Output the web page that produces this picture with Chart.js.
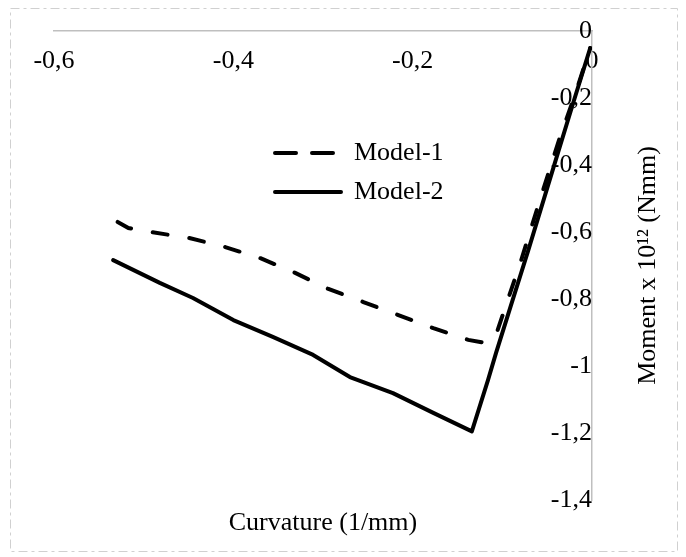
<!DOCTYPE html>
<html>
<head>
<meta charset="utf-8">
<script src="https://cdn.jsdelivr.net/npm/chart.js@4.4.1/dist/chart.umd.min.js"></script>
<style>
  body { margin: 0; background: #fff; }
  #wrap { width: 686px; height: 557px; }
</style>
</head>
<body>
<div id="wrap"><canvas id="myChart" width="686" height="557"></canvas></div>
<script>
// series names
const seriesNames = ["Model-1", "Model-2"];

// Model-1 (dashed) curvature / moment
const model1X = [-0.529, -0.517, -0.492, -0.449, -0.409, -0.370, -0.331, -0.294, -0.255, -0.216, -0.177, -0.138, -0.119, -0.106, -0.094, -0.080, -0.058, -0.036, -0.019, -0.002];
const model1Y = [-0.570, -0.588, -0.600, -0.618, -0.645, -0.678, -0.722, -0.770, -0.809, -0.848, -0.887, -0.922, -0.931, -0.899, -0.803, -0.693, -0.504, -0.319, -0.191, -0.051];

// Model-2 (solid)
const model2X = [-0.534, -0.482, -0.445, -0.400, -0.356, -0.311, -0.270, -0.222, -0.177, -0.134, -0.116, -0.107, -0.091, -0.071, -0.038, -0.021, -0.002];
const model2Y = [-0.684, -0.752, -0.797, -0.863, -0.913, -0.967, -1.033, -1.081, -1.140, -1.195, -1.042, -0.961, -0.824, -0.654, -0.364, -0.215, -0.051];

// tick labels (ascending order, as the scale builds them)
const xTickLabels = ["-0,6", "-0,4", "-0,2", "0"];
const yTickLabels = ["-1,4", "-1,2", "-1", "-0,8", "-0,6", "-0,4", "-0,2", "0"];

const xTitle = "Curvature (1/mm)";
const yTitle = "Moment x 10\u00b9\u00b2 (Nmm)";

const toPoints = (xs, ys) => xs.map((x, i) => ({ x: x, y: ys[i] }));

const serif = "'Liberation Serif', 'Times New Roman', serif";

// no label overhang padding, plot area is set by layout.padding
const noPad = scale => {
  scale.paddingTop = 0;
  scale.paddingBottom = 0;
  scale.paddingLeft = 0;
  scale.paddingRight = 0;
};

// legend placed inside the plot, titles + dashed frame drawn by hand
const extras = {
  id: "extras",
  afterLayout(chart) {
    const a = chart.chartArea;
    const lg = chart.legend;
    const w = lg.right - lg.left, h = lg.bottom - lg.top;
    lg.left = a.left + 208;
    lg.top = a.top + 96;
    lg.right = lg.left + w;
    lg.bottom = lg.top + h;
  },
  afterDraw(chart) {
    const ctx = chart.ctx;
    const a = chart.chartArea;
    ctx.save();
    ctx.fillStyle = "#000";
    ctx.font = "26px " + serif;
    ctx.textAlign = "center";
    ctx.textBaseline = "middle";
    ctx.fillText(xTitle, (a.left + a.right) / 2, a.bottom + 23);
    ctx.translate(a.right + 56, (a.top + a.bottom) / 2);
    ctx.rotate(-Math.PI / 2);
    ctx.fillText(yTitle, 0, 0);
    ctx.restore();

    ctx.save();
    ctx.strokeStyle = "#d0d0d0";
    ctx.lineWidth = 1;
    ctx.setLineDash([9, 4, 3, 4]);
    ctx.strokeRect(10.5, 8.5, 667, 543);
    ctx.restore();
  }
};

const ctx = document.getElementById("myChart").getContext("2d");
const chart = new Chart(ctx, {
  type: "scatter",
  data: {
    datasets: [
      {
        label: seriesNames[0],
        data: toPoints(model1X, model1Y),
        showLine: true,
        borderColor: "#000",
        backgroundColor: "#000",
        borderWidth: 4,
        borderDash: [15, 22],
        borderCapStyle: "round",
        pointRadius: 0,
        tension: 0
      },
      {
        label: seriesNames[1],
        data: toPoints(model2X, model2Y),
        showLine: true,
        borderColor: "#000",
        backgroundColor: "#000",
        borderWidth: 4,
        borderCapStyle: "round",
        borderJoinStyle: "round",
        pointRadius: 0,
        tension: 0
      }
    ]
  },
  options: {
    responsive: false,
    animation: false,
    devicePixelRatio: 1,
    layout: { padding: { left: 54, right: 94, top: 31, bottom: 57 } },
    plugins: {
      legend: {
        position: "chartArea",
        align: "start",
        labels: {
          boxWidth: 66,
          boxHeight: 0,
          padding: 13,
          color: "#000",
          font: { family: serif, size: 26 }
        }
      },
      tooltip: { enabled: false }
    },
    scales: {
      x: {
        type: "linear",
        min: -0.6,
        max: 0,
        position: { y: 0 },
        afterFit: noPad,
        grid: { display: false, drawTicks: false },
        border: { display: true, color: "#bfbfbf", width: 1.5 },
        ticks: {
          stepSize: 0.2,
          padding: 15,
          color: "#000",
          font: { family: serif, size: 26 },
          callback: (v, i) => xTickLabels[i]
        }
      },
      y: {
        type: "linear",
        min: -1.4,
        max: 0,
        position: { x: 0 },
        afterFit: noPad,
        grid: { display: false, drawTicks: false },
        border: { display: true, color: "#bfbfbf", width: 1.5 },
        ticks: {
          stepSize: 0.2,
          padding: 22,
          color: "#000",
          font: { family: serif, size: 26 },
          callback: (v, i) => yTickLabels[i]
        }
      }
    }
  },
  plugins: [extras]
});
</script>
</body>
</html>
